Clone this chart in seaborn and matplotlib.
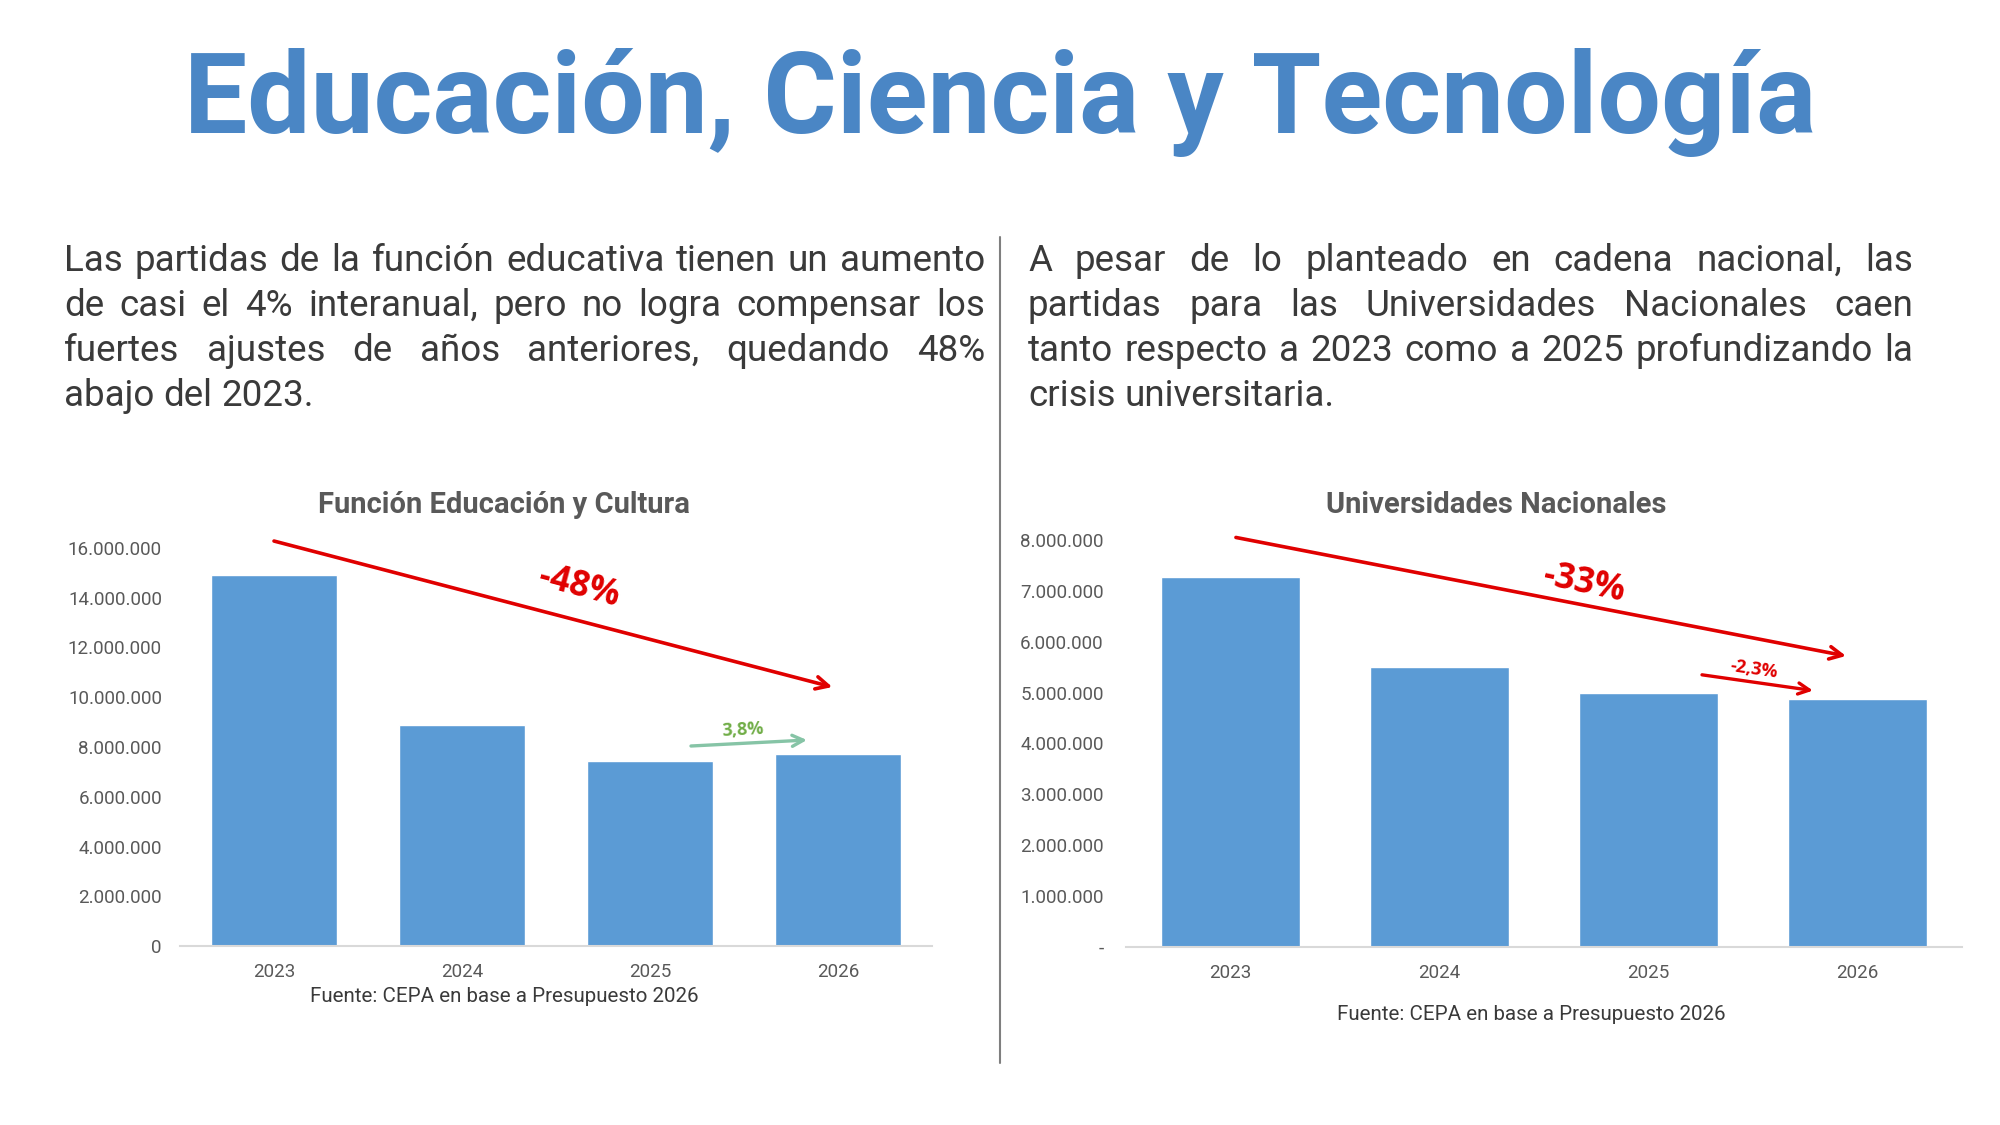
import matplotlib
matplotlib.use("Agg")
import matplotlib.pyplot as plt
import seaborn as sns
import pandas as pd

# Datos
years = ["2023", "2024", "2025", "2026"]
educacion = [14930000, 8870000, 7420000, 7700000]
universidades = [7280000, 5500000, 4990000, 4870000]

edu_ticks = [0, 2000000, 4000000, 6000000, 8000000, 10000000, 12000000, 14000000, 16000000]
uni_ticks = [0, 1000000, 2000000, 3000000, 4000000, 5000000, 6000000, 7000000, 8000000]

title = "Educación, Ciencia y Tecnología"
left_lines = [
    "Las partidas de la función educativa tienen un aumento",
    "de casi el 4% interanual, pero no logra compensar los",
    "fuertes ajustes de años anteriores, quedando 48%",
    "abajo del 2023.",
]
right_lines = [
    "A pesar de lo planteado en cadena nacional, las",
    "partidas para las Universidades Nacionales caen",
    "tanto respecto a 2023 como a 2025 profundizando la",
    "crisis universitaria.",
]
fuente = "Fuente: CEPA en base a Presupuesto 2026"

sns.set_style("white")
plt.rcParams["font.family"] = ["Roboto", "DejaVu Sans"]

W, H = 2000, 1125
fig = plt.figure(figsize=(20, 11.25), dpi=100)
renderer = fig.canvas.get_renderer()

BLUE = "#5b9bd5"
GRAY = "#595959"
TXT = "#3a3a3a"
RED = "#e00000"


def fx(px):
    return px / W


def fy(py):
    return 1 - py / H


def fmt(v):
    return f"{v:,.0f}".replace(",", ".")


def justified(lines, x0, x1, y0, step, size):
    # palabra por palabra para simular texto justificado
    for i, line in enumerate(lines):
        y = fy(y0 + i * step)
        words = line.split(" ")
        last = i == len(lines) - 1
        arts = []
        for w in words:
            t = fig.text(0, y, w, fontsize=size, color=TXT, va="baseline", ha="left")
            arts.append(t)
        widths = [a.get_window_extent(renderer).width for a in arts]
        if last or len(words) == 1:
            t1 = fig.text(0, 0, "a a", fontsize=size)
            t2 = fig.text(0, 0, "aa", fontsize=size)
            gap = t1.get_window_extent(renderer).width - t2.get_window_extent(renderer).width
            t1.remove()
            t2.remove()
        else:
            gap = (x1 - x0 - sum(widths)) / (len(words) - 1)
        x = x0
        for a, w in zip(arts, widths):
            a.set_x(fx(x))
            x += w + gap


# titulo
fig.text(0.5, fy(133), title, ha="center", va="baseline", fontsize=81,
         fontweight="bold", color="#4a86c5")

justified(left_lines, 64, 985, 271, 45, 26.5)
justified(right_lines, 1028, 1913, 271, 45, 26.5)

# divisor
fig.add_artist(plt.Line2D([fx(1000), fx(1000)], [fy(237), fy(1063)], color="#7f7f7f", lw=1.5))


def bar_chart(ax, values, ticks, zero_label):
    df = pd.DataFrame({"year": years, "value": values})
    sns.barplot(data=df, x="year", y="value", color=BLUE, saturation=1, width=0.665, ax=ax)
    ax.set_xlim(-0.5, 3.5)
    ax.set_ylim(0, ticks[-1])
    ax.set_yticks(ticks)
    ax.set_yticklabels([zero_label] + [fmt(t) for t in ticks[1:]])
    ax.set_xlabel("")
    ax.set_ylabel("")
    for s in ["top", "right", "left"]:
        ax.spines[s].set_visible(False)
    ax.spines["bottom"].set_color("#d9d9d9")
    ax.spines["bottom"].set_linewidth(1.5)
    ax.tick_params(axis="both", length=0, labelsize=13.5, colors=GRAY)
    ax.tick_params(axis="x", pad=12)
    ax.patch.set_alpha(0)


ax1 = fig.add_axes([fx(180), fy(946), fx(932 - 180), (946 - 548) / H])
bar_chart(ax1, educacion, edu_ticks, "0")
ax1.tick_params(axis="y", pad=13)
ax2 = fig.add_axes([fx(1126), fy(947), fx(1962 - 1126), (947 - 540) / H])
bar_chart(ax2, universidades, uni_ticks, "-")
ax2.tick_params(axis="y", pad=16)

fig.text(fx(504), fy(505), "Función Educación y Cultura", ha="center", va="center",
         fontsize=21, fontweight="bold", color=GRAY)
fig.text(fx(1496), fy(505), "Universidades Nacionales", ha="center", va="center",
         fontsize=21, fontweight="bold", color=GRAY)
fig.text(fx(504), fy(997), fuente, ha="center", va="center", fontsize=14.8, color=TXT)
fig.text(fx(1531), fy(1014), fuente, ha="center", va="center", fontsize=14.8, color=TXT)

big = dict(arrowstyle="->,head_length=0.9,head_width=0.45", color=RED, lw=2.6,
           shrinkA=0, shrinkB=0)
small_red = dict(arrowstyle="->,head_length=0.8,head_width=0.4", color=RED, lw=2.4,
                 shrinkA=0, shrinkB=0)
green = dict(arrowstyle="->,head_length=0.8,head_width=0.4", color="#86c4a6", lw=2.4,
             shrinkA=0, shrinkB=0)

ax1.annotate("", xy=(2.97, 10410000), xytext=(0.0, 16280000), arrowprops=big,
             annotation_clip=False)
ax1.annotate("", xy=(2.835, 8280000), xytext=(2.218, 8040000), arrowprops=green,
             annotation_clip=False)
fig.text(fx(579), fy(587), "-48%", ha="center", va="center", fontsize=25,
         fontweight="bold", color=RED, rotation=-15, family="Open Sans")
fig.text(fx(743), fy(730), "3,8%", ha="center", va="center", fontsize=13,
         fontweight="bold", color="#70ad47", family="Open Sans", rotation=3)

ax2.annotate("", xy=(2.945, 5720000), xytext=(0.026, 8050000), arrowprops=big,
             annotation_clip=False)
ax2.annotate("", xy=(2.787, 5040000), xytext=(2.256, 5350000), arrowprops=small_red,
             annotation_clip=False)
fig.text(fx(1584), fy(584), "-33%", ha="center", va="center", fontsize=25,
         fontweight="bold", color=RED, rotation=-12, family="Open Sans")
fig.text(fx(1754), fy(669), "-2,3%", ha="center", va="center", fontsize=13,
         fontweight="bold", color=RED, rotation=-8, family="Open Sans")

fig.savefig("out.png", dpi=100, facecolor="white")
